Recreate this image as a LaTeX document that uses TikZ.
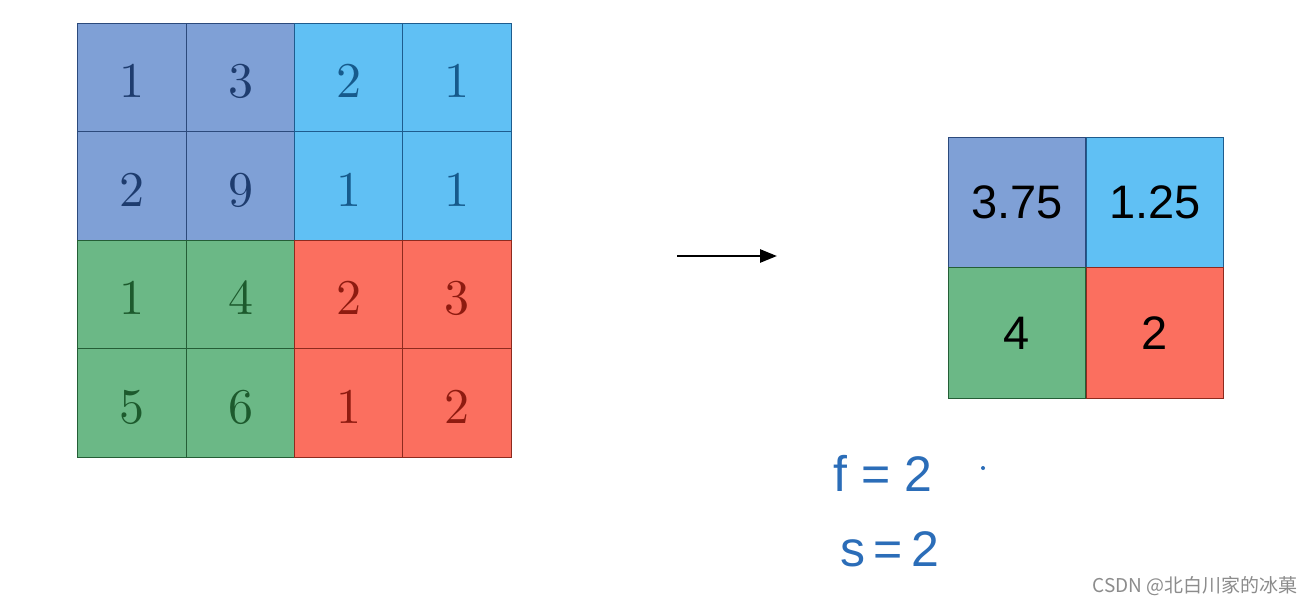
\documentclass[tikz,border=0pt]{standalone}
\usepackage{fontspec}
\newfontfamily\cjk{Noto Sans CJK SC}
\newfontfamily\hand{Liberation Sans}
\newfontfamily\lmten{lmroman10-regular.otf}
\usetikzlibrary{arrows.meta}
\definecolor{cpurple}{HTML}{7FA0D6}
\definecolor{cblue}{HTML}{60C0F4}
\definecolor{cgreen}{HTML}{6BB886}
\definecolor{cred}{HTML}{FB6F5F}
\definecolor{tpurple}{HTML}{1E3C6E}
\definecolor{tblue}{HTML}{165A8C}
\definecolor{tgreen}{HTML}{1D5A2D}
\definecolor{tred}{HTML}{8E1B10}
\definecolor{bpurple}{HTML}{2C4A7C}
\definecolor{bblue}{HTML}{1E5C8E}
\definecolor{bgreen}{HTML}{245E36}
\definecolor{bred}{HTML}{8E2A1E}
\definecolor{inkblue}{HTML}{2B6DB8}
\definecolor{wmgray}{HTML}{8C8C8C}
\tikzset{
  cell/.style={draw, line width=1.2pt, minimum width=108.3pt, minimum height=108.5pt,
    inner sep=0pt, anchor=center, text height=40pt, text depth=0pt,
    font=\lmten\fontsize{50}{50}\selectfont},
  pcell/.style={cell, fill=cpurple, draw=bpurple, text=tpurple},
  bcell/.style={cell, fill=cblue, draw=bblue, text=tblue},
  gcell/.style={cell, fill=cgreen, draw=bgreen, text=tgreen},
  rcell/.style={cell, fill=cred, draw=bred, text=tred},
  ocell/.style={draw, line width=1.2pt, minimum width=137.5pt, minimum height=130.5pt,
    inner sep=0pt, anchor=center, text=black, font=\hand\fontsize{47}{47}\selectfont},
  inktext/.style={text=inkblue, inner sep=0pt, font=\hand\fontsize{50}{50}\selectfont},
}
\begin{document}
\begin{tikzpicture}[x=1pt,y=-1pt]
\useasboundingbox (0,0) rectangle (1313,606);
\fill[white] (0,0) rectangle (1313,606);
% input grid
\node[pcell] (a11) at (132,77.5) {1};
\node[pcell] (a12) at (240.5,77.5) {3};
\node[bcell] (a13) at (349,77.5) {2};
\node[bcell] (a14) at (457,77.5) {1};
\node[pcell] (a21) at (132,186) {2};
\node[pcell] (a22) at (240.5,186) {9};
\node[bcell] (a23) at (349,186) {1};
\node[bcell] (a24) at (457,186) {1};
\node[gcell] (a31) at (132,294.5) {1};
\node[gcell] (a32) at (240.5,294.5) {4};
\node[rcell] (a33) at (349,294.5) {2};
\node[rcell] (a34) at (457,294.5) {3};
\node[gcell] (a41) at (132,403) {5};
\node[gcell] (a42) at (240.5,403) {6};
\node[rcell] (a43) at (349,403) {1};
\node[rcell] (a44) at (457,403) {2};
% output grid
\node[ocell, fill=cpurple, draw=bpurple] (b11) at (1017,202.5) {3.75};
\node[ocell, fill=cblue, draw=bblue] (b12) at (1155,202.5) {1.25};
\node[ocell, fill=cgreen, draw=bgreen] (b21) at (1017,333) {4};
\node[ocell, fill=cred, draw=bred] (b22) at (1155,333) {2};
% arrow
\coordinate (arrS) at (677,256);
\coordinate (arrE) at (777,256);
\draw[line width=2.6pt, -{Triangle[length=17pt,width=13pt]}] (arrS) -- (arrE);
% notes
\node[inktext] (fnote) at (883,473) {f\;=\;2};
\node[inktext] (snote) at (890,549) {s\,=\,2};
\fill[inkblue] (983,468) circle (2);
% watermark
\node[anchor=east, text=wmgray, inner sep=0pt, font=\cjk\fontsize{19}{19}\selectfont] (wm) at (1298,586) {CSDN @北白川家的冰菓};
\end{tikzpicture}
\end{document}
